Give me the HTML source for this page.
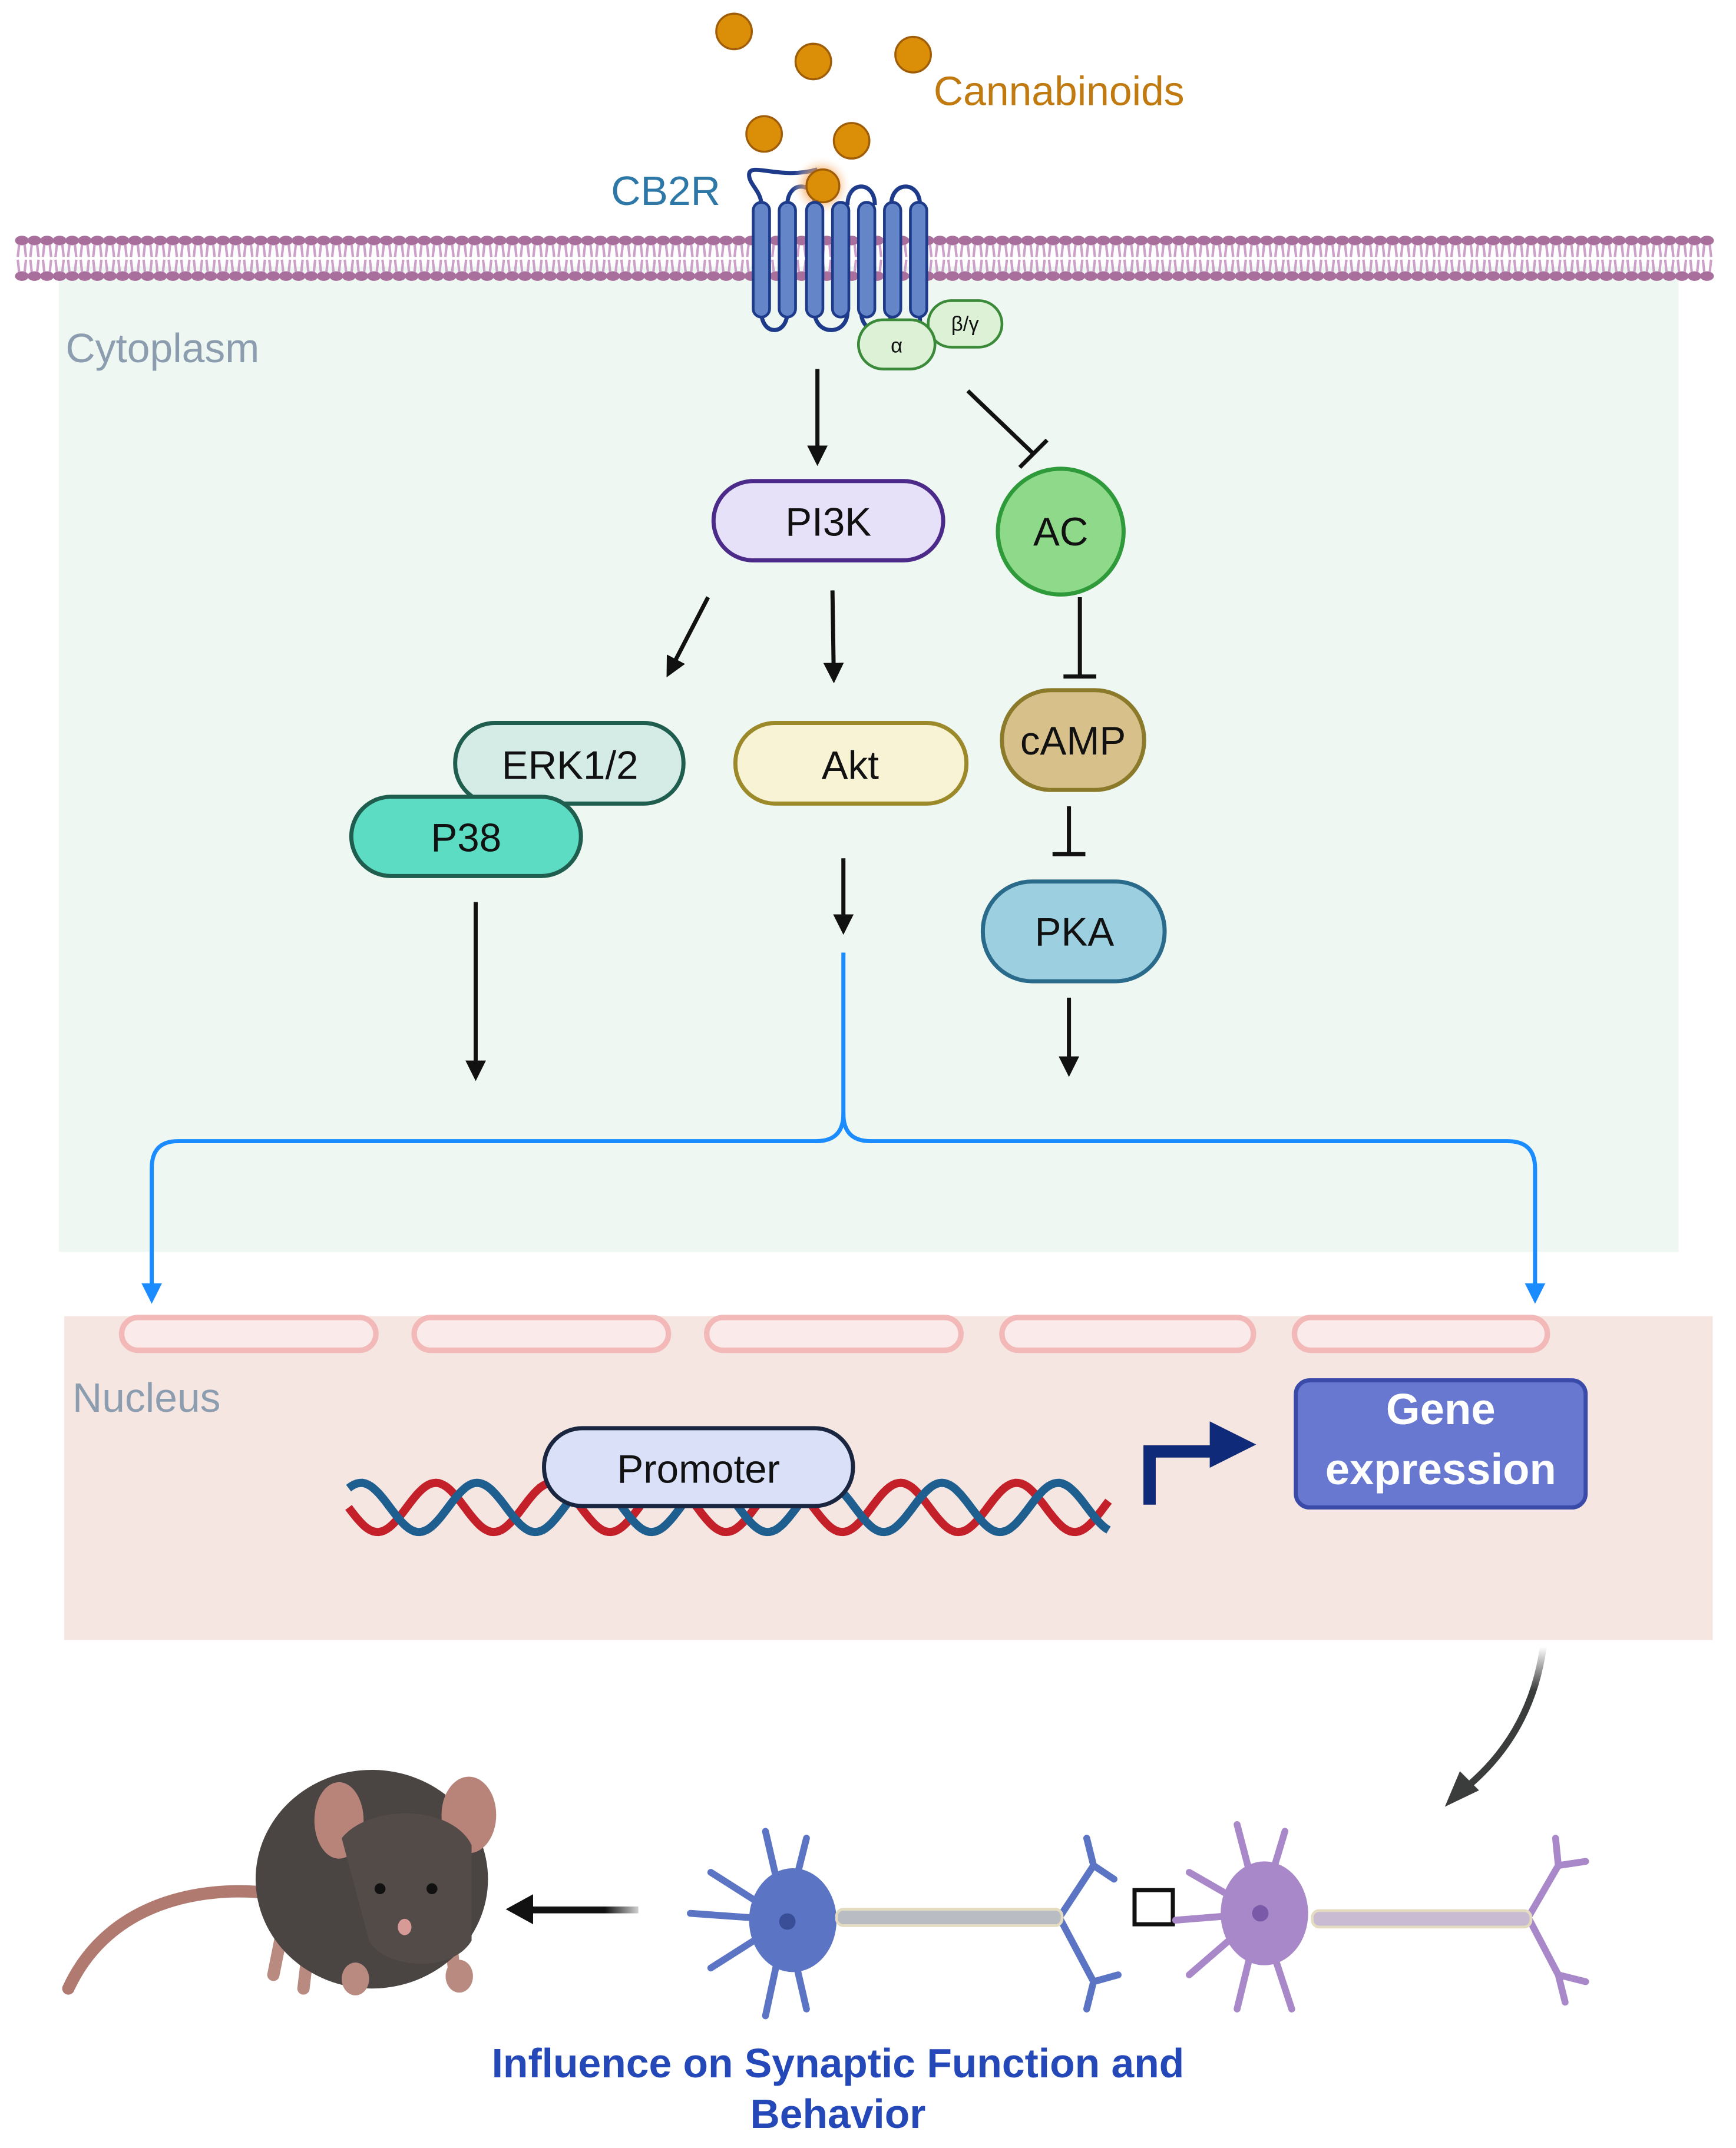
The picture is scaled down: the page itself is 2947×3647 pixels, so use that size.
<!DOCTYPE html>
<html><head><meta charset="utf-8">
<style>
html,body{margin:0;padding:0;background:#fff;}
svg{display:block;}
text{font-family:"Liberation Sans",sans-serif;}
</style></head>
<body>
<svg id="s" width="2947" height="3647" viewBox="0 0 1270 1571.7" preserveAspectRatio="none" xmlns="http://www.w3.org/2000/svg">
<defs>
<marker id="ah" viewBox="0 0 10 10" refX="8" refY="5" markerWidth="5" markerHeight="5" orient="auto-start-reverse"><path d="M0,0 L10,5 L0,10 z" fill="#111"/></marker>
<marker id="ahb" viewBox="0 0 10 10" refX="8" refY="5" markerWidth="5" markerHeight="5" orient="auto"><path d="M0,0 L10,5 L0,10 z" fill="#1a8cff"/></marker>
<radialGradient id="glow"><stop offset="0.5" stop-color="#f7a050" stop-opacity="0.7"/><stop offset="1" stop-color="#fff" stop-opacity="0"/></radialGradient>
<linearGradient id="garr" x1="0" y1="0" x2="0" y2="1"><stop offset="0" stop-color="#3a3d3b" stop-opacity="0"/><stop offset="0.3" stop-color="#3a3d3b"/></linearGradient>
<linearGradient id="larr" x1="0" y1="0" x2="1" y2="0"><stop offset="0.7" stop-color="#111"/><stop offset="1" stop-color="#111" stop-opacity="0.2"/></linearGradient>
</defs>

<rect x="43" y="195" width="1185" height="721" fill="#eef7f1"/>
<g id="mem"></g>

<text x="48" y="265" font-size="30" fill="#8c9daf">Cytoplasm</text>

<g fill="#db8e08" stroke="#a05d08" stroke-width="1.5">
<circle cx="537" cy="23" r="13"/><circle cx="595" cy="45" r="13"/><circle cx="668" cy="40" r="13"/>
<circle cx="559" cy="98" r="13"/><circle cx="623" cy="103" r="13"/>
</g>
<text x="683" y="77" font-size="30" fill="#c07a10">Cannabinoids</text>
<text x="447" y="150" font-size="30" fill="#2e78a8">CB2R</text>

<!-- receptor -->
<g fill="none" stroke="#1e3a8a" stroke-width="3">
<path d="M557,150 C557,140 548,135 548,128 C548,118 570,132 598,124"/>
<path d="M576,150 C576,132 596,132 596,150"/>
<path d="M620,150 C620,132 640,132 640,150"/>
<path d="M652,150 C652,132 673,132 673,150"/>
<path d="M557,228 C557,246 576,246 576,228"/>
<path d="M596,228 C596,246 620,246 620,228"/>
<path d="M630,228 C630,246 652,246 652,228"/>
<path d="M673,228 L673,240"/>
</g>
<circle cx="601" cy="136" r="22" fill="url(#glow)"/>
<circle cx="602" cy="136" r="12" fill="#db8e08" stroke="#a05d08" stroke-width="1.5"/>
<g fill="#6486c9" stroke="#1e3a8a" stroke-width="2">
<rect x="551" y="148" width="12" height="84" rx="6"/>
<rect x="570" y="148" width="12" height="84" rx="6"/>
<rect x="590" y="148" width="12" height="84" rx="6"/>
<rect x="609" y="148" width="12" height="84" rx="6"/>
<rect x="628" y="148" width="12" height="84" rx="6"/>
<rect x="647" y="148" width="12" height="84" rx="6"/>
<rect x="666" y="148" width="12" height="84" rx="6"/>
</g>
<g stroke="#3a8a3a" stroke-width="2" fill="#dcf1d6">
<rect x="679" y="220" width="54" height="34" rx="17"/>
<rect x="628" y="234" width="56" height="36" rx="18"/>
</g>
<text x="656" y="258" font-size="15" text-anchor="middle" fill="#111">α</text>
<text x="706" y="242" font-size="15" text-anchor="middle" fill="#111">β/γ</text>

<g stroke="#111" stroke-width="3" fill="none">
<line x1="598" y1="270" x2="598" y2="338" marker-end="url(#ah)"/>
<line x1="708" y1="286" x2="756" y2="332"/><line x1="746" y1="342" x2="766" y2="322"/>
<line x1="518" y1="437" x2="489" y2="493" marker-end="url(#ah)"/>
<line x1="609" y1="432" x2="610" y2="497" marker-end="url(#ah)"/>
<line x1="790" y1="437" x2="790" y2="495"/><line x1="778" y1="495" x2="802" y2="495"/>
<line x1="782" y1="590" x2="782" y2="625"/><line x1="770" y1="625" x2="794" y2="625"/>
<line x1="348" y1="660" x2="348" y2="788" marker-end="url(#ah)"/>
<line x1="617" y1="628" x2="617" y2="681" marker-end="url(#ah)"/>
<line x1="782" y1="730" x2="782" y2="785" marker-end="url(#ah)"/>
</g>

<rect x="522" y="352" width="168" height="58" rx="29" fill="#e6e0f8" stroke="#4b2a8a" stroke-width="3"/>
<text x="606" y="392" font-size="29" text-anchor="middle" fill="#111">PI3K</text>
<circle cx="776" cy="389" r="46" fill="#8fd98a" stroke="#2e9a3a" stroke-width="3"/>
<text x="776" y="399" font-size="29" text-anchor="middle" fill="#111">AC</text>
<rect x="333" y="529" width="167" height="59" rx="29" fill="#d5ece6" stroke="#1f5e4e" stroke-width="3"/>
<text x="417" y="570" font-size="29" text-anchor="middle" fill="#111">ERK1/2</text>
<rect x="257" y="583" width="168" height="58" rx="29" fill="#5cdcc3" stroke="#1f5e4e" stroke-width="3"/>
<text x="341" y="623" font-size="29" text-anchor="middle" fill="#111">P38</text>
<rect x="538" y="529" width="169" height="59" rx="29" fill="#f7f3d4" stroke="#9c8a2a" stroke-width="3"/>
<text x="622" y="570" font-size="29" text-anchor="middle" fill="#111">Akt</text>
<rect x="733" y="505" width="104" height="73" rx="36" fill="#d8c08a" stroke="#8a7a2a" stroke-width="3"/>
<text x="785" y="552" font-size="29" text-anchor="middle" fill="#111">cAMP</text>
<rect x="719" y="645" width="133" height="73" rx="36" fill="#9ccfe0" stroke="#2a6a8a" stroke-width="3"/>
<text x="786" y="692" font-size="29" text-anchor="middle" fill="#111">PKA</text>

<g stroke="#1a8cff" stroke-width="3" fill="none">
<path d="M617,697 L617,815 Q617,835 597,835 L130,835 Q111,835 111,855 L111,951" marker-end="url(#ahb)"/>
<path d="M617,815 Q617,835 637,835 L1103,835 Q1123,835 1123,855 L1123,951" marker-end="url(#ahb)"/>
</g>

<rect x="47" y="963" width="1206" height="237" fill="#f6e6e2"/>
<g fill="#fbeaea" stroke="#f3b8b8" stroke-width="4">
<rect x="89" y="964" width="186" height="24" rx="12"/>
<rect x="303" y="964" width="186" height="24" rx="12"/>
<rect x="517" y="964" width="186" height="24" rx="12"/>
<rect x="733" y="964" width="184" height="24" rx="12"/>
<rect x="947" y="964" width="185" height="24" rx="12"/>
</g>
<text x="53" y="1033" font-size="30" fill="#8c9daf">Nucleus</text>
<g id="dna"></g>
<rect x="398" y="1045" width="226" height="57" rx="28" fill="#d9e0f8" stroke="#1a2540" stroke-width="3"/>
<text x="511" y="1085" font-size="29" text-anchor="middle" fill="#111">Promoter</text>
<path d="M841,1101 L841,1062 L888,1062" stroke="#102a7a" stroke-width="9" fill="none"/>
<path d="M885,1040 L919,1057 L885,1074 z" fill="#102a7a"/>
<rect x="948" y="1010" width="212" height="93" rx="10" fill="#6877cf" stroke="#3a4aa8" stroke-width="3"/>
<text x="1054" y="1042" font-size="32" font-weight="bold" text-anchor="middle" fill="#fff">Gene</text>
<text x="1054" y="1086" font-size="32" font-weight="bold" text-anchor="middle" fill="#fff">expression</text>

<path d="M1129,1205 Q1120,1270 1070,1310" stroke="url(#garr)" stroke-width="5" fill="none"/>
<path d="M1057,1322 L1068,1296 L1082,1310 z" fill="#3a3d3b"/>

<rect x="385" y="1395" width="82" height="5" fill="url(#larr)"/>
<path d="M370,1397 L390,1386 L390,1408 z" fill="#111"/>

<g>
<path d="M195,1385 C150,1380 80,1390 50,1455" stroke="#b07a70" stroke-width="9" fill="none" stroke-linecap="round"/>
<path d="M205,1420 L200,1445 M225,1430 L222,1455 M330,1420 L333,1450" stroke="#b98a80" stroke-width="9" stroke-linecap="round"/>
<ellipse cx="272" cy="1375" rx="85" ry="80" fill="#4a4442"/>
<ellipse cx="248" cy="1332" rx="18" ry="28" fill="#b8847a"/>
<ellipse cx="343" cy="1328" rx="20" ry="28" fill="#b8847a"/>
<path d="M250,1345 C270,1320 330,1320 345,1350 L345,1420 C330,1445 280,1440 270,1420 z" fill="#524b48"/>
<circle cx="278" cy="1382" r="4" fill="#111"/><circle cx="316" cy="1382" r="4" fill="#111"/>
<ellipse cx="296" cy="1410" rx="5" ry="6" fill="#d89a96"/>
<ellipse cx="260" cy="1448" rx="10" ry="12" fill="#b98a80"/><ellipse cx="336" cy="1446" rx="10" ry="12" fill="#b98a80"/>
</g>

<g stroke="#5b74c4" stroke-width="5" fill="none" stroke-linecap="round">
<path d="M575,1405 L560,1340 M575,1405 L590,1345 M575,1405 L520,1370 M575,1405 L505,1400 M575,1405 L520,1440 M575,1405 L560,1475 M575,1405 L590,1470 M775,1403 L800,1365 M775,1403 L800,1450 M800,1365 L795,1345 M800,1365 L815,1375 M800,1450 L795,1470 M800,1450 L818,1445"/>
</g>
<ellipse cx="580" cy="1405" rx="32" ry="38" fill="#5b74c4"/>
<circle cx="576" cy="1406" r="6" fill="#3a4e98"/>
<rect x="612" y="1397" width="165" height="12" rx="5" fill="#b9bcc2" stroke="#e4dcc0" stroke-width="2"/>
<rect x="830" y="1383" width="28" height="25" fill="none" stroke="#111" stroke-width="3"/>
<g stroke="#a888c8" stroke-width="5" fill="none" stroke-linecap="round">
<path d="M922,1400 L905,1335 M922,1400 L940,1340 M922,1400 L870,1370 M922,1400 L860,1405 M922,1400 L870,1445 M922,1400 L905,1470 M922,1400 L945,1470 M1118,1403 L1140,1365 M1118,1403 L1140,1445 M1140,1365 L1160,1362 M1140,1365 L1138,1345 M1140,1445 L1160,1450 M1140,1445 L1145,1465"/>
</g>
<ellipse cx="925" cy="1400" rx="32" ry="38" fill="#a888c8"/>
<circle cx="922" cy="1400" r="6" fill="#7a5aa8"/>
<rect x="960" y="1398" width="160" height="12" rx="5" fill="#c9bcd2" stroke="#e4dcc0" stroke-width="2"/>

<text x="613" y="1520" font-size="30" font-weight="bold" text-anchor="middle" fill="#2548b8">Influence on Synaptic Function and</text>
<text x="613" y="1557" font-size="30" font-weight="bold" text-anchor="middle" fill="#2548b8">Behavior</text>
</svg>
<script>
(function(){
var m=document.getElementById("mem"),h="";
for(var x=16;x<1257;x+=9.2){
 h+='<ellipse cx="'+x+'" cy="176" rx="5" ry="3.5" fill="#a86e9c"/>';
 h+='<ellipse cx="'+x+'" cy="202" rx="5" ry="3.5" fill="#a86e9c"/>';
 h+='<path d="M'+(x-2)+',179 L'+(x-3)+',188 M'+(x+2)+',179 L'+(x+3)+',188 M'+(x-3)+',190 L'+(x-2)+',199 M'+(x+3)+',190 L'+(x+2)+',199" stroke="#cca0c8" stroke-width="1.8"/>';
}
m.innerHTML=h;
var d=document.getElementById("dna"),p1="",p2="";
for(var x=255;x<=812;x+=2){
 var t=(x-255)/85*2*Math.PI;
 var y1=1103+18*Math.sin(t), y2=1103-18*Math.sin(t+0.9);
 p1+=(x==255?"M":"L")+x+","+y1.toFixed(1);
 p2+=(x==255?"M":"L")+x+","+y2.toFixed(1);
}
d.innerHTML='<path d="'+p1+'" stroke="#c4202a" stroke-width="6" fill="none"/><path d="'+p2+'" stroke="#1f5f8f" stroke-width="6" fill="none"/>';
})();
</script>
</body></html>
